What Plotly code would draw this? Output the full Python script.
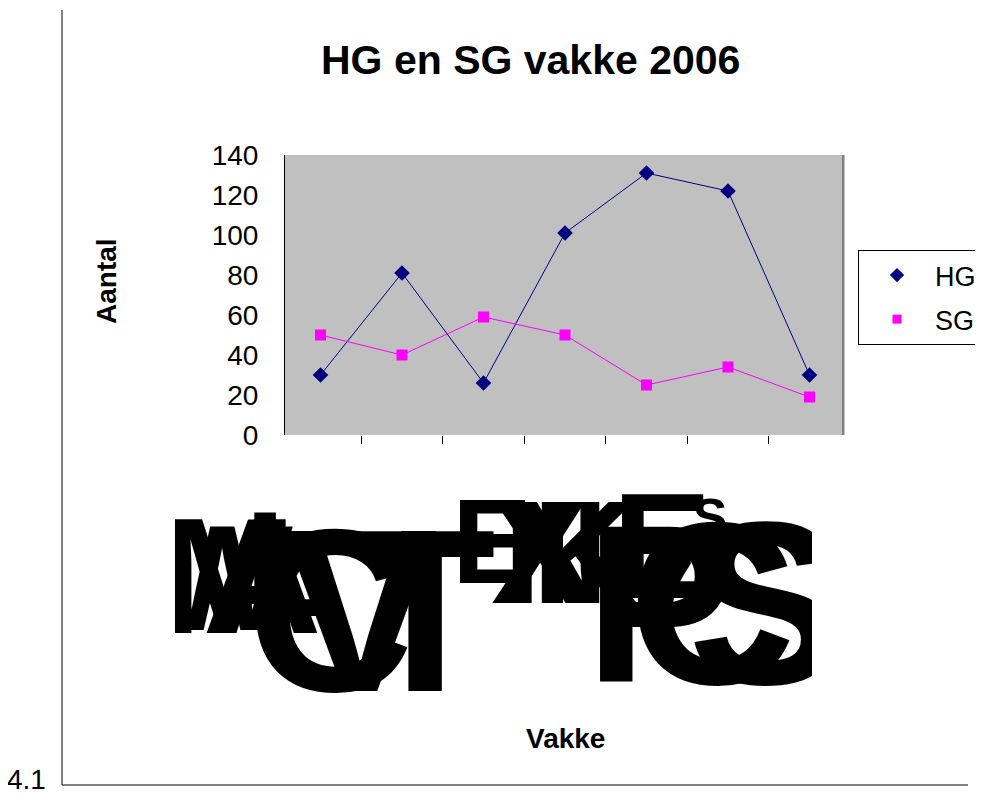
import plotly.graph_objects as go

# ---- data ----
vakke = ["MWA", "LC", "VT", "EXN", "KE", "S7", "PCS"]   # x-axis labels (overlapping as in the source)
hg = [30, 81, 26, 101, 131, 122, 30]
sg = [50, 40, 59, 50, 25, 34, 19]
y_ticks = [0, 20, 40, 60, 80, 100, 120, 140]
outer_tick = "4.1"

# ---- styles (glyph placement of the overlapping x labels, in pixel units) ----
glyph_style = [
    [(228, 592, 165), (222, 592, 150), (262, 592, 165)],
    [(290, 578, 150), (330, 633, 232)],
    [(360, 633, 232), (425, 633, 232)],
    [(492, 553, 120), (540, 566, 147), (556, 566, 147)],
    [(585, 566, 147), (662, 560, 150)],
    [(710, 522, 52), (672, 590, 80)],
    [(660, 625, 225), (712, 626, 232), (765, 626, 232)],
]

W, H = 983, 796
OFF = 8  # page body margin
FONT = "Arial, Liberation Sans, sans-serif"


def px(x):
    return (x - OFF) / W


def py(y):
    return 1 - (y - OFF) / H


fig = go.Figure()

fig.add_trace(go.Scatter(
    x=vakke, y=hg, name="HG", mode="lines+markers",
    line=dict(color="#000080", width=1),
    marker=dict(symbol="diamond", size=12, color="#000080"),
    showlegend=False, xaxis="x", yaxis="y"))
fig.add_trace(go.Scatter(
    x=vakke, y=sg, name="SG", mode="lines+markers",
    line=dict(color="#FF00FF", width=1),
    marker=dict(symbol="square", size=11, color="#FF00FF"),
    showlegend=False, xaxis="x", yaxis="y"))
# legend entries (marker only, as in the source legend)
fig.add_trace(go.Scatter(
    x=[None], y=[None], name="HG", mode="markers",
    marker=dict(symbol="diamond", size=11, color="#000080"),
    legendgroup="hg", xaxis="x", yaxis="y"))
fig.add_trace(go.Scatter(
    x=[None], y=[None], name="SG", mode="markers",
    marker=dict(symbol="square", size=9, color="#FF00FF"),
    legendgroup="sg", xaxis="x", yaxis="y"))

# overlapping x labels, clipped to their box
gx, gy, gs, gt = [], [], [], []
for label, styles in zip(vakke, glyph_style):
    for ch, (x, y, s) in zip(label, styles):
        gx.append(x); gy.append(y); gs.append(s); gt.append("<b>" + ch + "</b>")
fig.add_trace(go.Scatter(
    x=gx, y=gy, text=gt, mode="text", textposition="middle center",
    textfont=dict(family=FONT, size=gs, color="black"),
    cliponaxis=True, showlegend=False, hoverinfo="skip",
    xaxis="x2", yaxis="y2"))

fig.update_layout(
    width=W, height=H,
    margin=dict(l=0, r=0, t=0, b=0, autoexpand=False),
    paper_bgcolor="white",
    plot_bgcolor="rgba(0,0,0,0)",
    font=dict(family=FONT, color="black"),
    showlegend=True,
    legend=dict(
        x=px(858), y=py(250), xanchor="left", yanchor="top",
        bordercolor="black", borderwidth=1, bgcolor="white",
        font=dict(size=27, family=FONT), tracegroupgap=6,
        itemwidth=66),
    xaxis=dict(
        domain=[px(285), px(845)], type="category",
        tickson="boundaries", ticks="outside", ticklen=8, tickcolor="black",
        showticklabels=False, showgrid=False, showline=False, zeroline=False,
        automargin=False, anchor="y"),
    yaxis=dict(
        domain=[py(435), py(155)], range=[0, 140], tickvals=y_ticks,
        ticks="outside", ticklen=20, tickcolor="rgba(0,0,0,0)",
        tickfont=dict(size=28, family=FONT),
        showgrid=False, zeroline=False, showline=True, linecolor="black",
        linewidth=1, automargin=False, anchor="x"),
    xaxis2=dict(
        domain=[px(175), px(812)], range=[175, 812], visible=False,
        anchor="y2", automargin=False),
    yaxis2=dict(
        domain=[py(712), py(480)], range=[712, 480], visible=False,
        anchor="x2", automargin=False),
    shapes=[
        dict(type="rect", xref="x domain", yref="y domain",
             x0=0, x1=1, y0=0, y1=1, layer="below",
             fillcolor="#C0C0C0", line=dict(width=0)),
        dict(type="line", xref="paper", yref="paper",
             x0=px(843), x1=px(843), y0=py(155), y1=py(435),
             line=dict(color="#808080", width=2)),
        dict(type="line", xref="paper", yref="paper",
             x0=px(62), x1=px(62), y0=py(10), y1=py(785),
             line=dict(color="black", width=1)),
        dict(type="line", xref="paper", yref="paper",
             x0=px(62), x1=px(968), y0=py(785), y1=py(785),
             line=dict(color="black", width=1)),
    ],
    annotations=[
        dict(text="<b>HG en SG vakke 2006</b>", xref="paper", yref="paper",
             x=px(530), y=py(60), xanchor="center", yanchor="middle",
             showarrow=False, font=dict(size=41, family=FONT)),
        dict(text="<b>Aantal</b>", xref="paper", yref="paper",
             x=px(106), y=py(281), xanchor="center", yanchor="middle",
             textangle=-90, showarrow=False, font=dict(size=28, family=FONT)),
        dict(text="<b>Vakke</b>", xref="paper", yref="paper",
             x=px(565), y=py(738), xanchor="center", yanchor="middle",
             showarrow=False, font=dict(size=28, family=FONT)),
        dict(text=outer_tick, xref="paper", yref="paper",
             x=px(47), y=py(779), xanchor="right", yanchor="middle",
             showarrow=False, borderpad=0, font=dict(size=28, family=FONT)),
    ],
)

fig.write_html("out.html")
